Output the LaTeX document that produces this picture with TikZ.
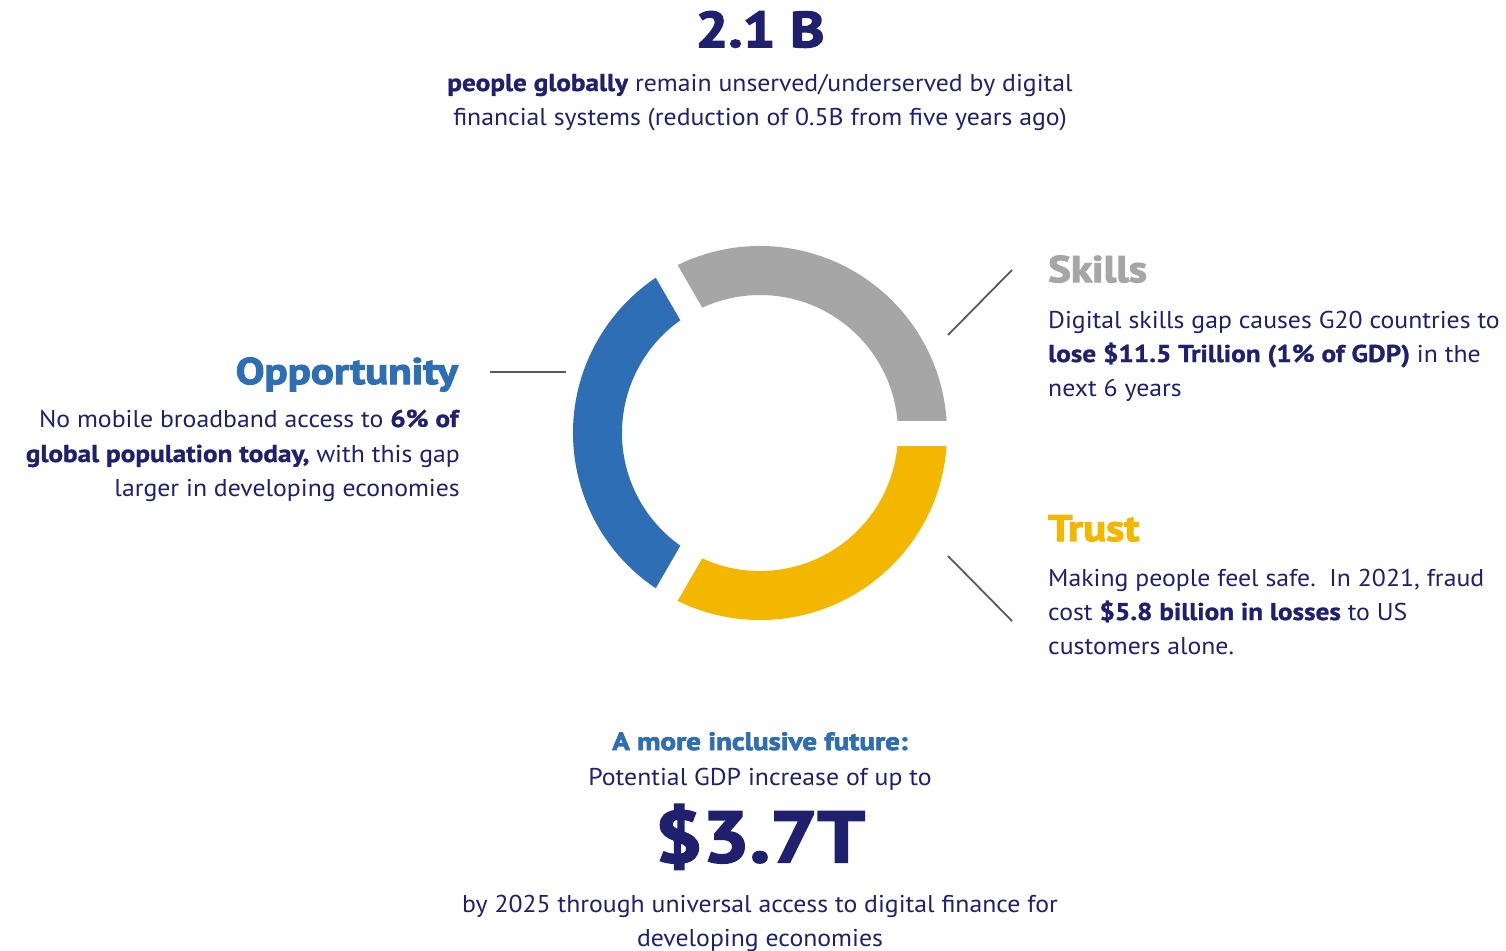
\documentclass[tikz,border=0pt]{standalone}
\usepackage{fontspec}
\setmainfont{PT Sans}[FakeStretch=1.06, BoldFeatures={FakeBold=1.2,FakeStretch=1.12}]
\newfontfamily\heavyfont{PT Sans}[FakeStretch=1.16, BoldFeatures={FakeBold=3}]
\definecolor{navy}{HTML}{1F206E}
\definecolor{oppblue}{HTML}{2E6EB5}
\definecolor{skillgrey}{HTML}{A6A6A6}
\definecolor{trustyellow}{HTML}{F4B700}
\definecolor{leader}{HTML}{5A5A5A}
\tikzset{
  body/.style={inner sep=0pt, text=navy, font=\fontsize{24.3}{28}\selectfont},
  heading/.style={inner sep=0pt, font=\heavyfont\bfseries\fontsize{37}{42}\selectfont},
  leaderline/.style={draw=leader, line width=1.8pt},
  gapline/.style={draw=white, line width=25pt}
}
\begin{document}
\begin{tikzpicture}[x=1pt,y=-1pt]
\useasboundingbox (0,0) rectangle (1506,950);
\fill[white] (0,0) rectangle (1506,950);

% ring
\begin{scope}[shift={(760,433)}]
  \coordinate (ringc) at (0,0);
  \fill[skillgrey] (240:187) arc[start angle=240,end angle=360,radius=187] -- (0:138) arc[start angle=360,end angle=240,radius=138] -- cycle;
  \fill[oppblue] (120:187) arc[start angle=120,end angle=240,radius=187] -- (240:138) arc[start angle=240,end angle=120,radius=138] -- cycle;
  \fill[trustyellow] (0:187) arc[start angle=0,end angle=120,radius=187] -- (120:138) arc[start angle=120,end angle=0,radius=138] -- cycle;
  \coordinate (g0) at (0:200);
  \coordinate (g1) at (120:200);
  \coordinate (g2) at (240:200);
  \draw[gapline] (ringc) -- (g0);
  \draw[gapline] (ringc) -- (g1);
  \draw[gapline] (ringc) -- (g2);
\end{scope}

% top
\node[heading, text=navy, anchor=base, font=\heavyfont\bfseries\fontsize{50}{56}\selectfont] (big) at (760,47) {2.1 B};
\node[body, anchor=base] (top1) at (760,91) {\textbf{people globally} remain unserved/underserved by digital};
\node[body, anchor=base] (top2) at (760,125) {financial systems (reduction of 0.5B from five years ago)};

% opportunity
\node[heading, text=oppblue, anchor=base east] (opph) at (458,384) {Opportunity};
\node[body, anchor=base east] (opp1) at (460,427) {No mobile broadband access to \textbf{6\% of}};
\node[body, anchor=base east] (opp2) at (460,462) {\textbf{global population today,} with this gap};
\node[body, anchor=base east] (opp3) at (460,496) {larger in developing economies};
\coordinate (oppa) at (490,372);
\coordinate (oppb) at (566,372);
\draw[leaderline] (oppa) -- (oppb);

% skills
\node[heading, text=skillgrey, anchor=base west] (skh) at (1048,282) {Skills};
\node[body, anchor=base west] (sk1) at (1048,328) {Digital skills gap causes G20 countries to};
\node[body, anchor=base west] (sk2) at (1048,362) {\textbf{lose \$11.5 Trillion (1\% of GDP)} in the};
\node[body, anchor=base west] (sk3) at (1048,396) {next 6 years};
\coordinate (ska) at (948,335);
\coordinate (skb) at (1012,270);
\draw[leaderline] (ska) -- (skb);

% trust
\node[heading, text=trustyellow, anchor=base west] (trh) at (1048,541) {Trust};
\node[body, anchor=base west] (tr1) at (1048,586) {Making people feel safe.\ \ In 2021, fraud};
\node[body, anchor=base west] (tr2) at (1048,620) {cost \textbf{\$5.8 billion in losses} to US};
\node[body, anchor=base west] (tr3) at (1048,654) {customers alone.};
\coordinate (tra) at (948,556);
\coordinate (trb) at (1012,621);
\draw[leaderline] (tra) -- (trb);

% bottom
\node[body, text=oppblue, anchor=base, font=\heavyfont\bfseries\fontsize{25}{28}\selectfont] (fut) at (760,750) {A more inclusive future:};
\node[body, anchor=base] (pot) at (760,785) {Potential GDP increase of up to};
\node[heading, text=navy, anchor=base, font=\heavyfont\bfseries\fontsize{72}{80}\selectfont] (val) at (760,862) {\$3.7T};
\node[body, anchor=base] (by1) at (760,912) {by 2025 through universal access to digital finance for};
\node[body, anchor=base] (by2) at (760,946) {developing economies};
\end{tikzpicture}
\end{document}
